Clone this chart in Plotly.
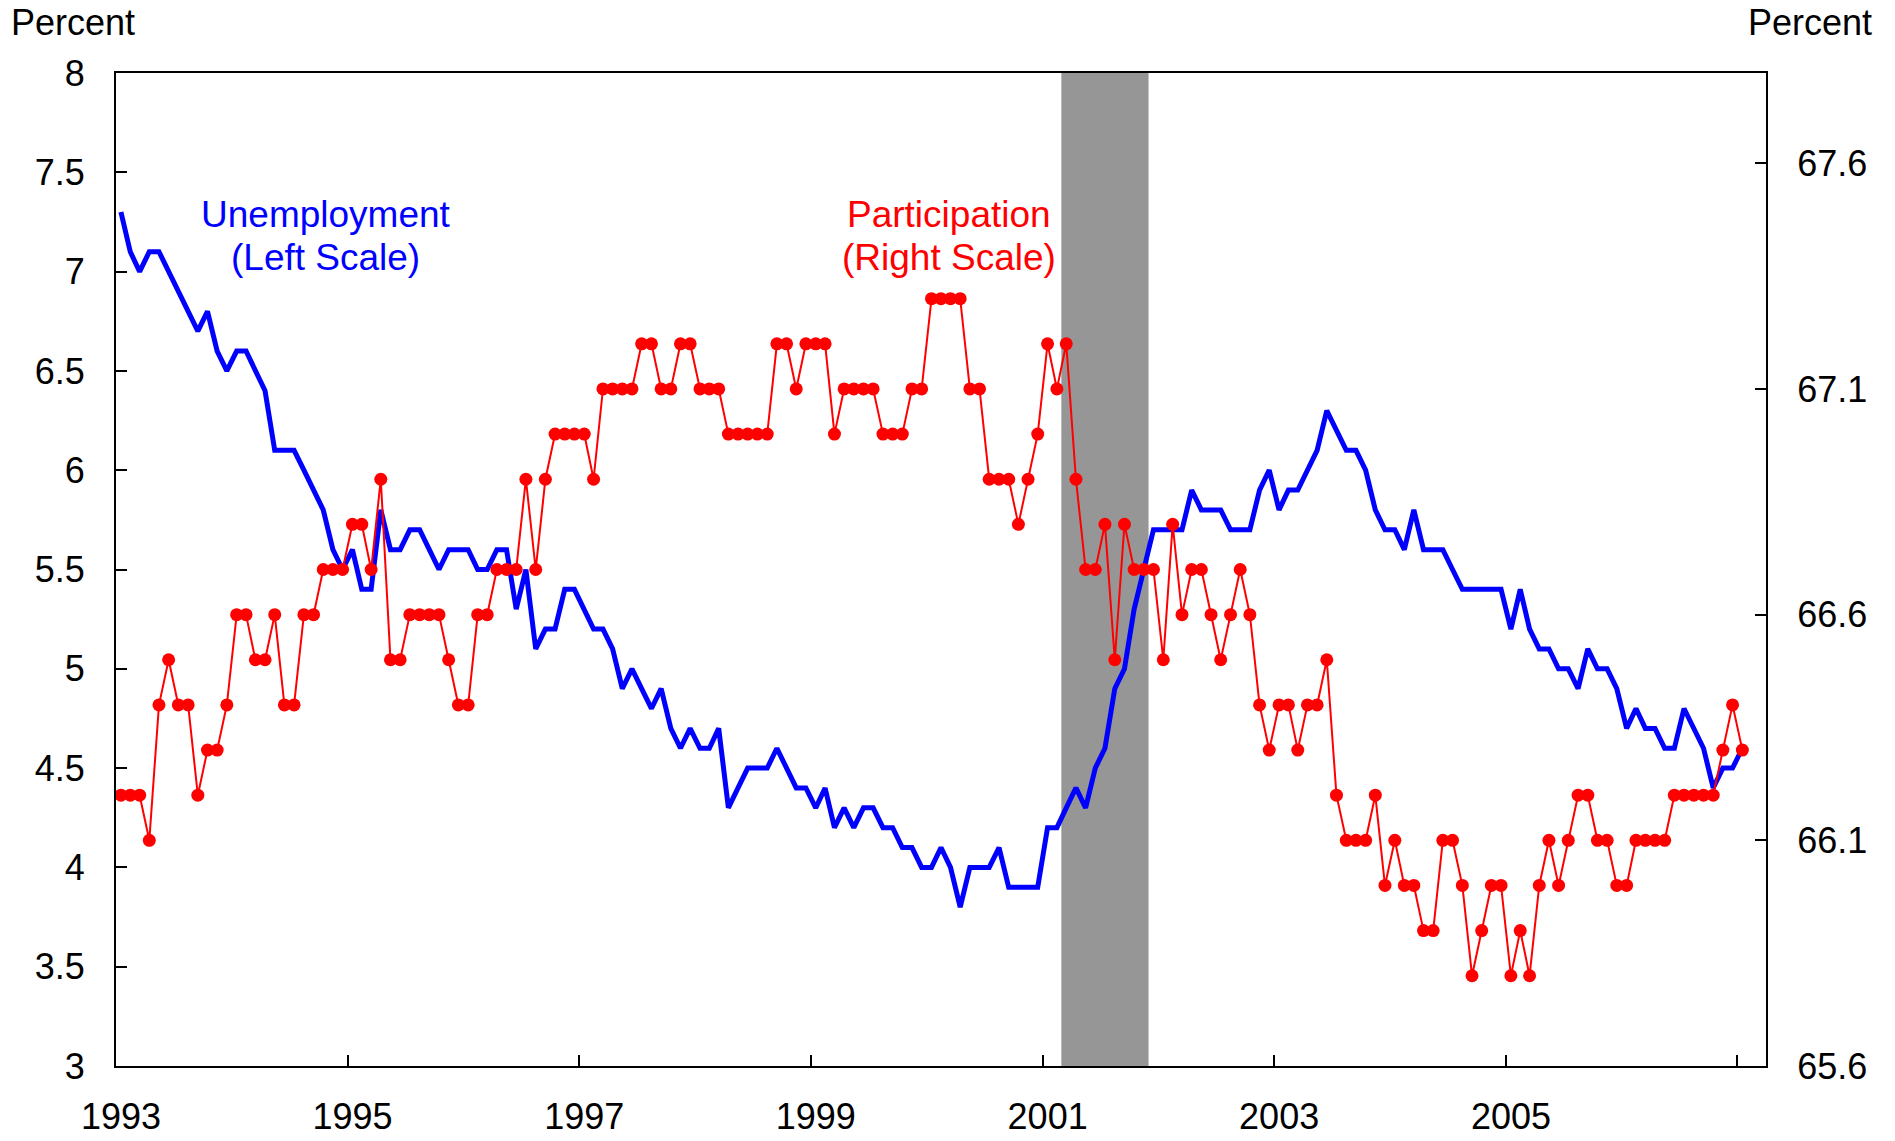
import pandas as pd
import plotly.graph_objects as go

# ---------------- data ----------------
start_month = "1993-01"

# Civilian unemployment rate, percent (left scale), monthly Jan 1993 - Jan 2007
unemployment = [
    7.3, 7.1, 7.0, 7.1, 7.1, 7.0, 6.9, 6.8, 6.7, 6.8, 6.6, 6.5,   # 1993
    6.6, 6.6, 6.5, 6.4, 6.1, 6.1, 6.1, 6.0, 5.9, 5.8, 5.6, 5.5,   # 1994
    5.6, 5.4, 5.4, 5.8, 5.6, 5.6, 5.7, 5.7, 5.6, 5.5, 5.6, 5.6,   # 1995
    5.6, 5.5, 5.5, 5.6, 5.6, 5.3, 5.5, 5.1, 5.2, 5.2, 5.4, 5.4,   # 1996
    5.3, 5.2, 5.2, 5.1, 4.9, 5.0, 4.9, 4.8, 4.9, 4.7, 4.6, 4.7,   # 1997
    4.6, 4.6, 4.7, 4.3, 4.4, 4.5, 4.5, 4.5, 4.6, 4.5, 4.4, 4.4,   # 1998
    4.3, 4.4, 4.2, 4.3, 4.2, 4.3, 4.3, 4.2, 4.2, 4.1, 4.1, 4.0,   # 1999
    4.0, 4.1, 4.0, 3.8, 4.0, 4.0, 4.0, 4.1, 3.9, 3.9, 3.9, 3.9,   # 2000
    4.2, 4.2, 4.3, 4.4, 4.3, 4.5, 4.6, 4.9, 5.0, 5.3, 5.5, 5.7,   # 2001
    5.7, 5.7, 5.7, 5.9, 5.8, 5.8, 5.8, 5.7, 5.7, 5.7, 5.9, 6.0,   # 2002
    5.8, 5.9, 5.9, 6.0, 6.1, 6.3, 6.2, 6.1, 6.1, 6.0, 5.8, 5.7,   # 2003
    5.7, 5.6, 5.8, 5.6, 5.6, 5.6, 5.5, 5.4, 5.4, 5.4, 5.4, 5.4,   # 2004
    5.2, 5.4, 5.2, 5.1, 5.1, 5.0, 5.0, 4.9, 5.1, 5.0, 5.0, 4.9,   # 2005
    4.7, 4.8, 4.7, 4.7, 4.6, 4.6, 4.8, 4.7, 4.6, 4.4, 4.5, 4.5,   # 2006
    4.6,                                                           # 2007
]

# Labor force participation rate, percent (right scale)
participation = [
    66.2, 66.2, 66.2, 66.1, 66.4, 66.5, 66.4, 66.4, 66.2, 66.3, 66.3, 66.4,   # 1993
    66.6, 66.6, 66.5, 66.5, 66.6, 66.4, 66.4, 66.6, 66.6, 66.7, 66.7, 66.7,   # 1994
    66.8, 66.8, 66.7, 66.9, 66.5, 66.5, 66.6, 66.6, 66.6, 66.6, 66.5, 66.4,   # 1995
    66.4, 66.6, 66.6, 66.7, 66.7, 66.7, 66.9, 66.7, 66.9, 67.0, 67.0, 67.0,   # 1996
    67.0, 66.9, 67.1, 67.1, 67.1, 67.1, 67.2, 67.2, 67.1, 67.1, 67.2, 67.2,   # 1997
    67.1, 67.1, 67.1, 67.0, 67.0, 67.0, 67.0, 67.0, 67.2, 67.2, 67.1, 67.2,   # 1998
    67.2, 67.2, 67.0, 67.1, 67.1, 67.1, 67.1, 67.0, 67.0, 67.0, 67.1, 67.1,   # 1999
    67.3, 67.3, 67.3, 67.3, 67.1, 67.1, 66.9, 66.9, 66.9, 66.8, 66.9, 67.0,   # 2000
    67.2, 67.1, 67.2, 66.9, 66.7, 66.7, 66.8, 66.5, 66.8, 66.7, 66.7, 66.7,   # 2001
    66.5, 66.8, 66.6, 66.7, 66.7, 66.6, 66.5, 66.6, 66.7, 66.6, 66.4, 66.3,   # 2002
    66.4, 66.4, 66.3, 66.4, 66.4, 66.5, 66.2, 66.1, 66.1, 66.1, 66.2, 66.0,   # 2003
    66.1, 66.0, 66.0, 65.9, 65.9, 66.1, 66.1, 66.0, 65.8, 65.9, 66.0, 66.0,   # 2004
    65.8, 65.9, 65.8, 66.0, 66.1, 66.0, 66.1, 66.2, 66.2, 66.1, 66.1, 66.0,   # 2005
    66.0, 66.1, 66.1, 66.1, 66.1, 66.2, 66.2, 66.2, 66.2, 66.2, 66.3, 66.4,   # 2006
    66.3,                                                                     # 2007
]

recession_start = "2001-03-01"
recession_end = "2001-12-01"

x_tick_years = [1993, 1995, 1997, 1999, 2001, 2003, 2005, 2007]
x_tick_labels = ["1993", "1995", "1997", "1999", "2001", "2003", "2005", ""]

left_ticks = [3, 3.5, 4, 4.5, 5, 5.5, 6, 6.5, 7, 7.5, 8]
left_tick_labels = ["3", "3.5", "4", "4.5", "5", "5.5", "6", "6.5", "7", "7.5", "8"]
right_ticks = [65.6, 66.1, 66.6, 67.1, 67.6]
right_tick_labels = ["65.6", "66.1", "66.6", "67.1", "67.6"]

# ---------------- figure ----------------
months = pd.date_range(start=start_month, periods=len(unemployment), freq="MS").strftime("%Y-%m-%d").tolist()

FONT = "Liberation Sans, Arial, Helvetica, sans-serif"
W, H = 1895, 1141
L, R, T, B = 116, 129, 73, 75

fig = go.Figure()

fig.add_trace(go.Scatter(
    x=months, y=unemployment, mode="lines", name="Unemployment",
    line=dict(color="#0000ff", width=5),
    xperiod="M1", xperiodalignment="middle",
    yaxis="y", showlegend=False,
))
fig.add_trace(go.Scatter(
    x=months, y=participation, mode="lines+markers", name="Participation",
    line=dict(color="#ff0000", width=2),
    marker=dict(color="#ff0000", size=13),
    xperiod="M1", xperiodalignment="middle",
    yaxis="y2", showlegend=False,
))

fig.add_shape(type="rect", xref="x", yref="paper",
              x0=recession_start, x1=recession_end, y0=0, y1=1,
              fillcolor="#969696", line=dict(width=0), layer="below")

axis_common = dict(showgrid=False, zeroline=False, showline=True,
                   linecolor="#000000", linewidth=2, automargin=False,
                   ticks="inside", ticklen=11, tickwidth=1.5, tickcolor="#000000")

def txt(text, x, y, color, size, xanchor="center"):
    return dict(text=text, xref="paper", yref="paper", x=x, y=y,
                xanchor=xanchor, yanchor="middle", showarrow=False,
                font=dict(size=size, family=FONT, color=color))

fig.update_layout(
    width=W, height=H,
    margin=dict(l=L, r=R, t=T, b=B, pad=0, autoexpand=False),
    paper_bgcolor="#ffffff", plot_bgcolor="#ffffff",
    font=dict(family=FONT, color="#000000"),
    xaxis=dict(
        type="date", range=["1993-01-01", "2007-04-01"],
        tickvals=[f"{y}-01-01" for y in x_tick_years], ticktext=x_tick_labels,
        tickfont=dict(size=36, family=FONT), ticklabelstandoff=18, ticklabelshift=5,
        mirror=True, **axis_common,
    ),
    yaxis=dict(
        range=[3, 8], tickvals=left_ticks, ticktext=left_tick_labels,
        tickfont=dict(size=36, family=FONT), ticklabelstandoff=22,
        **axis_common,
    ),
    yaxis2=dict(
        range=[65.6, 67.8], tickvals=right_ticks, ticktext=right_tick_labels,
        overlaying="y", side="right", anchor="x",
        tickfont=dict(size=36, family=FONT), ticklabelstandoff=22,
        **axis_common,
    ),
    annotations=[
        txt("Percent", -0.065, 1.051, "#000000", 36, "left"),
        txt("Percent", 1.0652, 1.051, "#000000", 36, "right"),
        txt("Unemployment", 0.127, 0.857, "#0000ff", 37),
        txt("(Left Scale)", 0.127, 0.814, "#0000ff", 37),
        txt("Participation", 0.505, 0.857, "#ff0000", 37),
        txt("(Right Scale)", 0.505, 0.814, "#ff0000", 37),
    ],
)

fig.write_html("out.html", config={"displayModeBar": False},
               post_script="document.body.style.margin='0';document.body.style.overflow='hidden';")
